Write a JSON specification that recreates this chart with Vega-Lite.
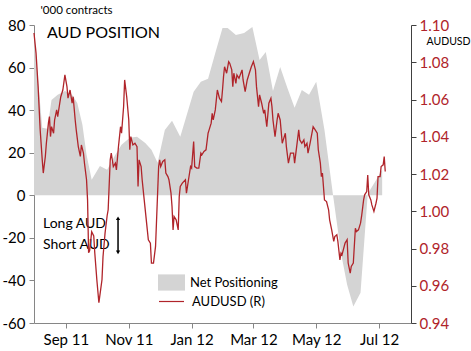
{
  "$schema": "https://vega.github.io/schema/vega-lite/v6.json",
  "width": 377,
  "height": 298,
  "autosize": {"type": "none"},
  "padding": {"left": 34, "top": 25, "right": 60, "bottom": 28},
  "background": "white",
  "config": {
    "view": {"stroke": null},
    "font": "Lato",
    "axis": {"grid": false, "labelFont": "Lato", "titleFont": "Lato", "labelFontSize": 15, "tickSize": 5, "domainWidth": 1, "tickWidth": 1}
  },
  "datasets": {
    "pos": [
      {"date": "2011-08-01", "net": 76.3}, {"date": "2011-08-09", "net": 31.7}, {"date": "2011-08-14", "net": 31.2},
      {"date": "2011-08-18", "net": 44.8}, {"date": "2011-08-24", "net": 47.2}, {"date": "2011-08-31", "net": 49.0},
      {"date": "2011-09-07", "net": 47.2}, {"date": "2011-09-12", "net": 43.4}, {"date": "2011-09-17", "net": 33.1},
      {"date": "2011-09-21", "net": 19.0}, {"date": "2011-09-26", "net": 7.3}, {"date": "2011-10-04", "net": 13.8},
      {"date": "2011-10-11", "net": 12.0}, {"date": "2011-10-19", "net": 19.0}, {"date": "2011-10-25", "net": 23.7},
      {"date": "2011-11-02", "net": 27.0}, {"date": "2011-11-09", "net": 27.5}, {"date": "2011-11-17", "net": 24.6},
      {"date": "2011-11-23", "net": 21.4}, {"date": "2011-11-29", "net": 15.3}, {"date": "2011-12-06", "net": 30.7},
      {"date": "2011-12-13", "net": 35.0}, {"date": "2011-12-21", "net": 27.5}, {"date": "2011-12-27", "net": 37.3},
      {"date": "2012-01-03", "net": 48.6}, {"date": "2012-01-10", "net": 53.3}, {"date": "2012-01-17", "net": 54.7},
      {"date": "2012-01-24", "net": 66.9}, {"date": "2012-01-31", "net": 78.6}, {"date": "2012-02-05", "net": 78.6},
      {"date": "2012-02-13", "net": 75.3}, {"date": "2012-02-21", "net": 76.3}, {"date": "2012-02-29", "net": 79.1},
      {"date": "2012-03-07", "net": 63.6}, {"date": "2012-03-13", "net": 67.3}, {"date": "2012-03-20", "net": 49.0},
      {"date": "2012-03-27", "net": 60.3}, {"date": "2012-04-03", "net": 50.4}, {"date": "2012-04-10", "net": 41.1},
      {"date": "2012-04-17", "net": 49.5}, {"date": "2012-04-24", "net": 47.2}, {"date": "2012-05-01", "net": 53.3},
      {"date": "2012-05-09", "net": 30.7}, {"date": "2012-05-17", "net": 1.2}, {"date": "2012-05-25", "net": -27.0},
      {"date": "2012-05-31", "net": -42.0}, {"date": "2012-06-06", "net": -52.3}, {"date": "2012-06-13", "net": -45.8},
      {"date": "2012-06-20", "net": 0.7}, {"date": "2012-06-27", "net": 6.3}, {"date": "2012-07-04", "net": 12.0}
    ],
    "aud": [
      {"date": "2011-08-01", "aud": 1.0957}, {"date": "2011-08-03", "aud": 1.0848}, {"date": "2011-08-05", "aud": 1.0669},
      {"date": "2011-08-07", "aud": 1.0437}, {"date": "2011-08-09", "aud": 1.0276}, {"date": "2011-08-10", "aud": 1.0205},
      {"date": "2011-08-12", "aud": 1.0294}, {"date": "2011-08-13", "aud": 1.0365}, {"date": "2011-08-15", "aud": 1.0473},
      {"date": "2011-08-16", "aud": 1.0508}, {"date": "2011-08-17", "aud": 1.0401}, {"date": "2011-08-18", "aud": 1.0454},
      {"date": "2011-08-20", "aud": 1.0419}, {"date": "2011-08-21", "aud": 1.0490}, {"date": "2011-08-23", "aud": 1.0544},
      {"date": "2011-08-24", "aud": 1.0508}, {"date": "2011-08-26", "aud": 1.0580}, {"date": "2011-08-27", "aud": 1.0615},
      {"date": "2011-08-29", "aud": 1.0651}, {"date": "2011-08-31", "aud": 1.0732}, {"date": "2011-09-02", "aud": 1.0669},
      {"date": "2011-09-03", "aud": 1.0607}, {"date": "2011-09-05", "aud": 1.0651}, {"date": "2011-09-07", "aud": 1.0580},
      {"date": "2011-09-08", "aud": 1.0615}, {"date": "2011-09-10", "aud": 1.0490}, {"date": "2011-09-11", "aud": 1.0437},
      {"date": "2011-09-13", "aud": 1.0347}, {"date": "2011-09-15", "aud": 1.0294}, {"date": "2011-09-16", "aud": 1.0356},
      {"date": "2011-09-18", "aud": 1.0312}, {"date": "2011-09-19", "aud": 1.0258}, {"date": "2011-09-21", "aud": 1.0169},
      {"date": "2011-09-22", "aud": 1.0061}, {"date": "2011-09-23", "aud": 0.9777}, {"date": "2011-09-24", "aud": 0.9788},
      {"date": "2011-09-26", "aud": 0.9890}, {"date": "2011-09-28", "aud": 0.9868}, {"date": "2011-09-29", "aud": 0.9777},
      {"date": "2011-10-01", "aud": 0.9632}, {"date": "2011-10-03", "aud": 0.9509}, {"date": "2011-10-06", "aud": 0.9632},
      {"date": "2011-10-07", "aud": 0.9756}, {"date": "2011-10-09", "aud": 0.9884}, {"date": "2011-10-11", "aud": 0.9976},
      {"date": "2011-10-12", "aud": 1.0008}, {"date": "2011-10-14", "aud": 1.0276}, {"date": "2011-10-15", "aud": 1.0312},
      {"date": "2011-10-17", "aud": 1.0240}, {"date": "2011-10-19", "aud": 1.0258}, {"date": "2011-10-20", "aud": 1.0222},
      {"date": "2011-10-22", "aud": 1.0347}, {"date": "2011-10-24", "aud": 1.0454}, {"date": "2011-10-25", "aud": 1.0419},
      {"date": "2011-10-27", "aud": 1.0562}, {"date": "2011-10-28", "aud": 1.0705}, {"date": "2011-10-30", "aud": 1.0615},
      {"date": "2011-11-01", "aud": 1.0490}, {"date": "2011-11-02", "aud": 1.0330}, {"date": "2011-11-03", "aud": 1.0401},
      {"date": "2011-11-05", "aud": 1.0356}, {"date": "2011-11-07", "aud": 1.0365}, {"date": "2011-11-09", "aud": 1.0347},
      {"date": "2011-11-10", "aud": 1.0133}, {"date": "2011-11-11", "aud": 1.0276}, {"date": "2011-11-13", "aud": 1.0240},
      {"date": "2011-11-14", "aud": 1.0169}, {"date": "2011-11-16", "aud": 1.0061}, {"date": "2011-11-18", "aud": 0.9954},
      {"date": "2011-11-20", "aud": 0.9847}, {"date": "2011-11-22", "aud": 0.9829}, {"date": "2011-11-23", "aud": 0.9722},
      {"date": "2011-11-25", "aud": 0.9722}, {"date": "2011-11-27", "aud": 0.9811}, {"date": "2011-11-28", "aud": 0.9954},
      {"date": "2011-11-30", "aud": 1.0240}, {"date": "2011-12-01", "aud": 1.0276}, {"date": "2011-12-02", "aud": 1.0240},
      {"date": "2011-12-04", "aud": 1.0267}, {"date": "2011-12-06", "aud": 1.0276}, {"date": "2011-12-07", "aud": 1.0205},
      {"date": "2011-12-09", "aud": 1.0186}, {"date": "2011-12-10", "aud": 1.0169}, {"date": "2011-12-12", "aud": 1.0097},
      {"date": "2011-12-13", "aud": 1.0025}, {"date": "2011-12-14", "aud": 0.9900}, {"date": "2011-12-15", "aud": 0.9972},
      {"date": "2011-12-17", "aud": 0.9954}, {"date": "2011-12-19", "aud": 0.9900}, {"date": "2011-12-20", "aud": 1.0079},
      {"date": "2011-12-21", "aud": 1.0133}, {"date": "2011-12-23", "aud": 1.0151}, {"date": "2011-12-26", "aud": 1.0169},
      {"date": "2011-12-27", "aud": 1.0097}, {"date": "2011-12-29", "aud": 1.0169}, {"date": "2011-12-31", "aud": 1.0240},
      {"date": "2012-01-01", "aud": 1.0232}, {"date": "2012-01-03", "aud": 1.0374}, {"date": "2012-01-04", "aud": 1.0240},
      {"date": "2012-01-06", "aud": 1.0232}, {"date": "2012-01-08", "aud": 1.0232}, {"date": "2012-01-10", "aud": 1.0312},
      {"date": "2012-01-11", "aud": 1.0303}, {"date": "2012-01-13", "aud": 1.0321}, {"date": "2012-01-15", "aud": 1.0330},
      {"date": "2012-01-17", "aud": 1.0419}, {"date": "2012-01-18", "aud": 1.0437}, {"date": "2012-01-20", "aud": 1.0473},
      {"date": "2012-01-21", "aud": 1.0526}, {"date": "2012-01-22", "aud": 1.0490}, {"date": "2012-01-24", "aud": 1.0544},
      {"date": "2012-01-25", "aud": 1.0598}, {"date": "2012-01-26", "aud": 1.0651}, {"date": "2012-01-28", "aud": 1.0607},
      {"date": "2012-01-30", "aud": 1.0589}, {"date": "2012-01-31", "aud": 1.0651}, {"date": "2012-02-01", "aud": 1.0723},
      {"date": "2012-02-02", "aud": 1.0776}, {"date": "2012-02-04", "aud": 1.0741}, {"date": "2012-02-06", "aud": 1.0803},
      {"date": "2012-02-07", "aud": 1.0795}, {"date": "2012-02-09", "aud": 1.0759}, {"date": "2012-02-10", "aud": 1.0669},
      {"date": "2012-02-11", "aud": 1.0741}, {"date": "2012-02-13", "aud": 1.0687}, {"date": "2012-02-14", "aud": 1.0732},
      {"date": "2012-02-16", "aud": 1.0714}, {"date": "2012-02-19", "aud": 1.0759}, {"date": "2012-02-20", "aud": 1.0705},
      {"date": "2012-02-22", "aud": 1.0642}, {"date": "2012-02-24", "aud": 1.0705}, {"date": "2012-02-26", "aud": 1.0741},
      {"date": "2012-02-28", "aud": 1.0776}, {"date": "2012-03-01", "aud": 1.0803}, {"date": "2012-03-03", "aud": 1.0759},
      {"date": "2012-03-04", "aud": 1.0669}, {"date": "2012-03-06", "aud": 1.0562}, {"date": "2012-03-07", "aud": 1.0625},
      {"date": "2012-03-09", "aud": 1.0580}, {"date": "2012-03-11", "aud": 1.0526}, {"date": "2012-03-12", "aud": 1.0544},
      {"date": "2012-03-14", "aud": 1.0454}, {"date": "2012-03-16", "aud": 1.0580}, {"date": "2012-03-18", "aud": 1.0607},
      {"date": "2012-03-19", "aud": 1.0562}, {"date": "2012-03-20", "aud": 1.0490}, {"date": "2012-03-22", "aud": 1.0401},
      {"date": "2012-03-24", "aud": 1.0490}, {"date": "2012-03-25", "aud": 1.0526}, {"date": "2012-03-27", "aud": 1.0490},
      {"date": "2012-03-29", "aud": 1.0365}, {"date": "2012-03-30", "aud": 1.0383}, {"date": "2012-04-01", "aud": 1.0419},
      {"date": "2012-04-02", "aud": 1.0347}, {"date": "2012-04-04", "aud": 1.0258}, {"date": "2012-04-06", "aud": 1.0312},
      {"date": "2012-04-07", "aud": 1.0312}, {"date": "2012-04-09", "aud": 1.0312}, {"date": "2012-04-10", "aud": 1.0258},
      {"date": "2012-04-12", "aud": 1.0347}, {"date": "2012-04-14", "aud": 1.0437}, {"date": "2012-04-15", "aud": 1.0383},
      {"date": "2012-04-17", "aud": 1.0365}, {"date": "2012-04-19", "aud": 1.0383}, {"date": "2012-04-20", "aud": 1.0347},
      {"date": "2012-04-22", "aud": 1.0365}, {"date": "2012-04-23", "aud": 1.0312}, {"date": "2012-04-25", "aud": 1.0365},
      {"date": "2012-04-28", "aud": 1.0454}, {"date": "2012-04-30", "aud": 1.0437}, {"date": "2012-05-02", "aud": 1.0419},
      {"date": "2012-05-03", "aud": 1.0330}, {"date": "2012-05-05", "aud": 1.0258}, {"date": "2012-05-06", "aud": 1.0186},
      {"date": "2012-05-07", "aud": 1.0205}, {"date": "2012-05-09", "aud": 1.0061}, {"date": "2012-05-11", "aud": 1.0052},
      {"date": "2012-05-13", "aud": 1.0008}, {"date": "2012-05-14", "aud": 0.9954}, {"date": "2012-05-16", "aud": 0.9900},
      {"date": "2012-05-18", "aud": 0.9838}, {"date": "2012-05-19", "aud": 0.9864}, {"date": "2012-05-21", "aud": 0.9874},
      {"date": "2012-05-22", "aud": 0.9838}, {"date": "2012-05-24", "aud": 0.9739}, {"date": "2012-05-25", "aud": 0.9775},
      {"date": "2012-05-26", "aud": 0.9766}, {"date": "2012-05-29", "aud": 0.9829}, {"date": "2012-05-31", "aud": 0.9847},
      {"date": "2012-06-01", "aud": 0.9722}, {"date": "2012-06-03", "aud": 0.9668}, {"date": "2012-06-04", "aud": 0.9704},
      {"date": "2012-06-06", "aud": 0.9722}, {"date": "2012-06-08", "aud": 0.9909}, {"date": "2012-06-09", "aud": 0.9891},
      {"date": "2012-06-11", "aud": 0.9900}, {"date": "2012-06-13", "aud": 0.9936}, {"date": "2012-06-14", "aud": 0.9972},
      {"date": "2012-06-16", "aud": 1.0061}, {"date": "2012-06-17", "aud": 1.0088}, {"date": "2012-06-19", "aud": 1.0106},
      {"date": "2012-06-20", "aud": 1.0195}, {"date": "2012-06-21", "aud": 1.0088}, {"date": "2012-06-23", "aud": 1.0061},
      {"date": "2012-06-24", "aud": 1.0034}, {"date": "2012-06-26", "aud": 0.9999}, {"date": "2012-06-28", "aud": 1.0043},
      {"date": "2012-06-29", "aud": 1.0070}, {"date": "2012-06-30", "aud": 1.0186}, {"date": "2012-07-02", "aud": 1.0186},
      {"date": "2012-07-03", "aud": 1.0240}, {"date": "2012-07-05", "aud": 1.0249}, {"date": "2012-07-06", "aud": 1.0294},
      {"date": "2012-07-07", "aud": 1.0213}
    ]
  },
  "layer": [
    {
      "layer": [
        {
          "data": {"name": "pos"},
          "mark": {"type": "area"},
          "encoding": {
            "x": {
              "field": "date",
              "type": "temporal",
              "scale": {"domain": [{"year": 2011, "month": 8, "date": 1}, {"year": 2012, "month": 8, "date": 1}]},
              "axis": {
                "title": null,
                "values": [
                  {"year": 2011, "month": 9, "date": 1}, {"year": 2011, "month": 11, "date": 1},
                  {"year": 2012, "month": 1, "date": 1}, {"year": 2012, "month": 3, "date": 1},
                  {"year": 2012, "month": 5, "date": 1}, {"year": 2012, "month": 7, "date": 1}
                ],
                "format": "%b %y",
                "labelColor": "black",
                "domainColor": "#868686",
                "tickColor": "#868686",
                "labelPadding": 4,
                "labelFlush": false,
                "labelOverlap": false
              }
            },
            "y": {
              "field": "net",
              "type": "quantitative",
              "scale": {"domain": [-60, 80], "nice": false, "zero": false},
              "axis": {
                "orient": "left",
                "values": [-60, -40, -20, 0, 20, 40, 60, 80],
                "labelExpr": "'' + datum.value",
                "title": "'000 contracts",
                "titleAngle": 0,
                "titleX": 6,
                "titleY": -15,
                "titleAlign": "left",
                "titleBaseline": "middle",
                "titleFontSize": 11.5,
                "titleFontWeight": "normal",
                "titleColor": "black",
                "labelColor": "black",
                "domainColor": "#868686",
                "tickColor": "#868686",
                "labelPadding": 4
              }
            },
            "y2": {"datum": 0},
            "fill": {
              "datum": "Net Positioning",
              "scale": {"range": ["#d4d4d4"]},
              "legend": {
                "orient": "none",
                "legendX": 124,
                "legendY": 244,
                "title": null,
                "padding": 0,
                "symbolType": "M-1,-0.6H1V0.6H-1Z",
                "symbolSize": 729,
                "symbolStrokeWidth": 0,
                "labelFontSize": 13,
                "labelFont": "Lato",
                "labelColor": "black",
                "labelOffset": 5
              }
            }
          }
        },
        {
          "data": {"values": [{}]},
          "mark": {"type": "text", "align": "left", "baseline": "middle", "fontSize": 16, "font": "Lato", "color": "black"},
          "encoding": {
            "x": {"datum": {"year": 2011, "month": 8, "date": 13, "hours": 14}, "type": "temporal"},
            "y": {"datum": 76.3, "type": "quantitative"},
            "text": {"value": "AUD POSITION"}
          }
        },
        {
          "data": {"values": [{}]},
          "mark": {"type": "text", "align": "left", "baseline": "middle", "fontSize": 14, "font": "Lato", "color": "black"},
          "encoding": {
            "x": {"datum": {"year": 2011, "month": 8, "date": 9, "hours": 17}, "type": "temporal"},
            "y": {"datum": -13.4, "type": "quantitative"},
            "text": {"value": "Long AUD"}
          }
        },
        {
          "data": {"values": [{}]},
          "mark": {"type": "text", "align": "left", "baseline": "middle", "fontSize": 14, "font": "Lato", "color": "black"},
          "encoding": {
            "x": {"datum": {"year": 2011, "month": 8, "date": 9, "hours": 17}, "type": "temporal"},
            "y": {"datum": -23.2, "type": "quantitative"},
            "text": {"value": "Short AUD"}
          }
        },
        {
          "data": {"values": [{}]},
          "mark": {"type": "rule", "color": "black", "strokeWidth": 1.5},
          "encoding": {
            "x": {"datum": {"year": 2011, "month": 10, "date": 21, "hours": 14}, "type": "temporal"},
            "y": {"datum": -11, "type": "quantitative"},
            "y2": {"datum": -26.5}
          }
        },
        {
          "data": {"values": [{}]},
          "mark": {"type": "point", "shape": "triangle-up", "filled": true, "color": "black", "size": 18, "opacity": 1},
          "encoding": {
            "x": {"datum": {"year": 2011, "month": 10, "date": 21, "hours": 14}, "type": "temporal"},
            "y": {"datum": -10.8, "type": "quantitative"}
          }
        },
        {
          "data": {"values": [{}]},
          "mark": {"type": "point", "shape": "triangle-down", "filled": true, "color": "black", "size": 18, "opacity": 1},
          "encoding": {
            "x": {"datum": {"year": 2011, "month": 10, "date": 21, "hours": 14}, "type": "temporal"},
            "y": {"datum": -26.8, "type": "quantitative"}
          }
        }
      ]
    },
    {
      "data": {"name": "aud"},
      "mark": {"type": "line", "strokeWidth": 1.3},
      "encoding": {
        "x": {"field": "date", "type": "temporal"},
        "y": {
          "field": "aud",
          "type": "quantitative",
          "scale": {"domain": [0.94, 1.1], "nice": false, "zero": false},
          "axis": {
            "orient": "right",
            "values": [0.94, 0.96, 0.98, 1.0, 1.02, 1.04, 1.06, 1.08, 1.1],
            "format": ".2f",
            "title": "AUDUSD",
            "titleAngle": 0,
            "titleX": 15,
            "titleY": 16,
            "titleAlign": "left",
            "titleBaseline": "middle",
            "titleFontSize": 10.5,
            "titleFontWeight": "normal",
            "titleColor": "black",
            "labelColor": "#b0242a",
            "domainColor": "#404040",
            "tickColor": "#404040",
            "labelPadding": 3
          }
        },
        "stroke": {
          "datum": "AUDUSD (R)",
          "scale": {"range": ["#b0242a"]},
          "legend": {
            "orient": "none",
            "legendX": 124,
            "legendY": 263,
            "title": null,
            "padding": 0,
            "symbolType": "stroke",
            "symbolSize": 625,
            "symbolStrokeWidth": 1.2,
            "labelFontSize": 13,
            "labelFont": "Lato",
            "labelColor": "black",
            "labelOffset": 7
          }
        }
      }
    }
  ],
  "resolve": {"scale": {"y": "independent"}}
}
